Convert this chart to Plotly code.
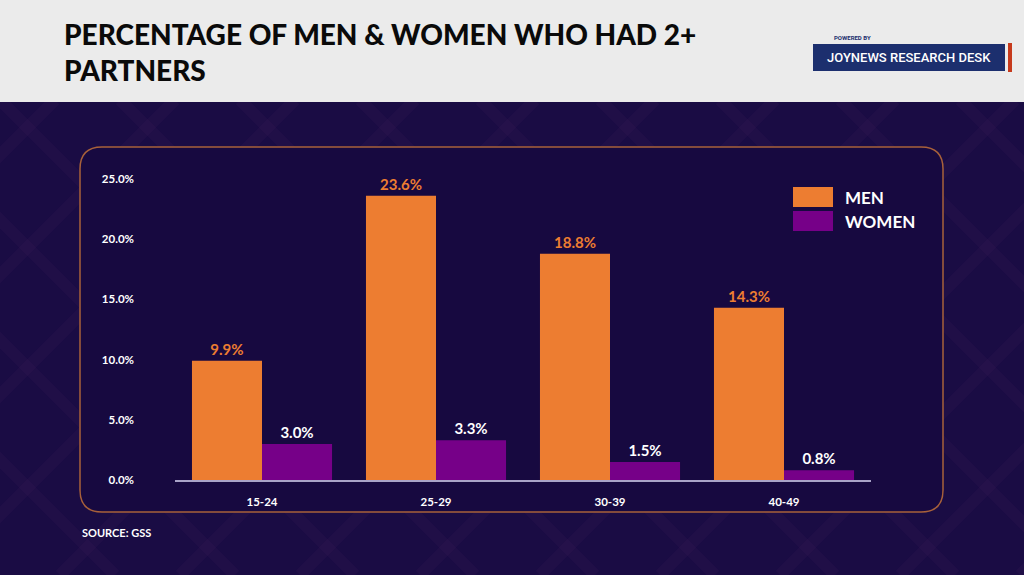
import plotly.graph_objects as go

categories = ["15-24", "25-29", "30-39", "40-49"]
men = [9.9, 23.6, 18.8, 14.3]
women = [3.0, 3.3, 1.5, 0.8]
y_ticks = [0, 5, 10, 15, 20, 25]
y_tick_labels = ["0.0%", "5.0%", "10.0%", "15.0%", "20.0%", "25.0%"]

W, H = 1024, 575
MEN_C = "#ed7d31"
WOMEN_C = "#760088"
BG = "#1a0c44"
FONT = "Lato"

def px(x):
    return x / W

def py(y):
    return 1 - y / H

fig = go.Figure()
fig.add_trace(go.Bar(
    x=categories, y=men, name="MEN", marker_color=MEN_C, marker_line_width=0,
    text=[f"{v:.1f}%" for v in men], textposition="outside",
    textfont=dict(color=MEN_C, size=15, family=FONT, weight="bold"),
    cliponaxis=False,
))
fig.add_trace(go.Bar(
    x=categories, y=women, name="WOMEN", marker_color=WOMEN_C, marker_line_width=0,
    text=[f"{v:.1f}%" for v in women], textposition="outside",
    textfont=dict(color="white", size=15, family=FONT, weight="bold"),
    cliponaxis=False,
))

shapes = []
# faint diagonal lattice in background
step = 120
for k in range(-8, 14):
    c = k * step
    shapes.append(dict(type="line", xref="paper", yref="paper",
                       x0=px(c), y0=py(100), x1=px(c + 475), y1=py(575),
                       line=dict(color="rgba(120,60,120,0.07)", width=12), layer="below"))
    shapes.append(dict(type="line", xref="paper", yref="paper",
                       x0=px(c + 60), y0=py(575), x1=px(c + 60 + 475), y1=py(100),
                       line=dict(color="rgba(120,60,120,0.07)", width=12), layer="below"))
# header band
shapes.append(dict(type="rect", xref="paper", yref="paper", x0=0, x1=1, y0=py(102), y1=1,
                   fillcolor="#ebebeb", line_width=0, layer="below"))
# rounded frame
x0, x1, y0, y1, r = 80, 943, 147, 512, 22
path = (f"M {px(x0+r)},{py(y0)} L {px(x1-r)},{py(y0)} Q {px(x1)},{py(y0)} {px(x1)},{py(y0+r)} "
        f"L {px(x1)},{py(y1-r)} Q {px(x1)},{py(y1)} {px(x1-r)},{py(y1)} "
        f"L {px(x0+r)},{py(y1)} Q {px(x0)},{py(y1)} {px(x0)},{py(y1-r)} "
        f"L {px(x0)},{py(y0+r)} Q {px(x0)},{py(y0)} {px(x0+r)},{py(y0)} Z")
shapes.append(dict(type="path", xref="paper", yref="paper", path=path,
                   fillcolor="#170940", line=dict(color="#a8613a", width=1.5), layer="below"))
# logo box
shapes.append(dict(type="rect", xref="paper", yref="paper", x0=px(813), x1=px(1005), y0=py(71), y1=py(44),
                   fillcolor="#1c2f6e", line_width=0))
shapes.append(dict(type="rect", xref="paper", yref="paper", x0=px(1008), x1=px(1012), y0=py(72), y1=py(43),
                   fillcolor="#c63a1c", line_width=0))
# custom legend swatches
shapes.append(dict(type="rect", xref="paper", yref="paper", x0=px(793), x1=px(833), y0=py(207), y1=py(187),
                   fillcolor=MEN_C, line_width=0))
shapes.append(dict(type="rect", xref="paper", yref="paper", x0=px(793), x1=px(833), y0=py(231), y1=py(211),
                   fillcolor=WOMEN_C, line_width=0))

annotations = [
    dict(text="PERCENTAGE OF MEN & WOMEN WHO HAD 2+<br>PARTNERS", x=px(62), y=py(15), xref="paper", yref="paper",
         xanchor="left", yanchor="top", align="left", showarrow=False,
         font=dict(family=FONT, size=28, color="#0a0a0a", weight=900)),
    dict(text="POWERED BY", x=px(832), y=py(37), xref="paper", yref="paper", xanchor="left", yanchor="middle",
         showarrow=False, font=dict(family="Roboto", size=6, color="#1c2f6e", weight="bold")),
    dict(text="JOYNEWS RESEARCH DESK", x=px(909), y=py(57.5), xref="paper", yref="paper", xanchor="center",
         yanchor="middle", showarrow=False, font=dict(family="Roboto", size=13, color="white", weight=500)),
    dict(text="MEN", x=px(843), y=py(197), xref="paper", yref="paper", xanchor="left", yanchor="middle",
         showarrow=False, font=dict(family=FONT, size=17, color="white", weight="bold")),
    dict(text="WOMEN", x=px(843), y=py(222), xref="paper", yref="paper", xanchor="left", yanchor="middle",
         showarrow=False, font=dict(family=FONT, size=17, color="white", weight="bold")),
    dict(text="SOURCE: GSS", x=px(80), y=py(532), xref="paper", yref="paper", xanchor="left", yanchor="middle",
         showarrow=False, font=dict(family=FONT, size=11, color="white", weight="bold")),
]

fig.update_layout(
    width=W, height=H,
    margin=dict(l=0, r=0, t=0, b=0, pad=0),
    paper_bgcolor=BG, plot_bgcolor="rgba(0,0,0,0)",
    barmode="group", bargap=0.195, bargroupgap=0,
    showlegend=False,
    shapes=shapes, annotations=annotations,
    xaxis=dict(domain=[px(175), px(871)], showgrid=False, zeroline=False, automargin=False,
               showline=True, linecolor="#a9a3c8", linewidth=2,
               tickfont=dict(family=FONT, size=11.5, color="white", weight="bold"),
               ticks="", ticklabelstandoff=10),
    yaxis=dict(domain=[py(480), py(179)], range=[0, 25], showgrid=False, zeroline=False, automargin=False,
               tickvals=y_ticks, ticktext=y_tick_labels,
               tickfont=dict(family=FONT, size=11.5, color="white", weight="bold"),
               ticks="", ticklabelstandoff=40),
)

fig.write_html("out.html", config={"displayModeBar": False},
               post_script="document.body.style.margin='0';document.body.style.padding='0';")
